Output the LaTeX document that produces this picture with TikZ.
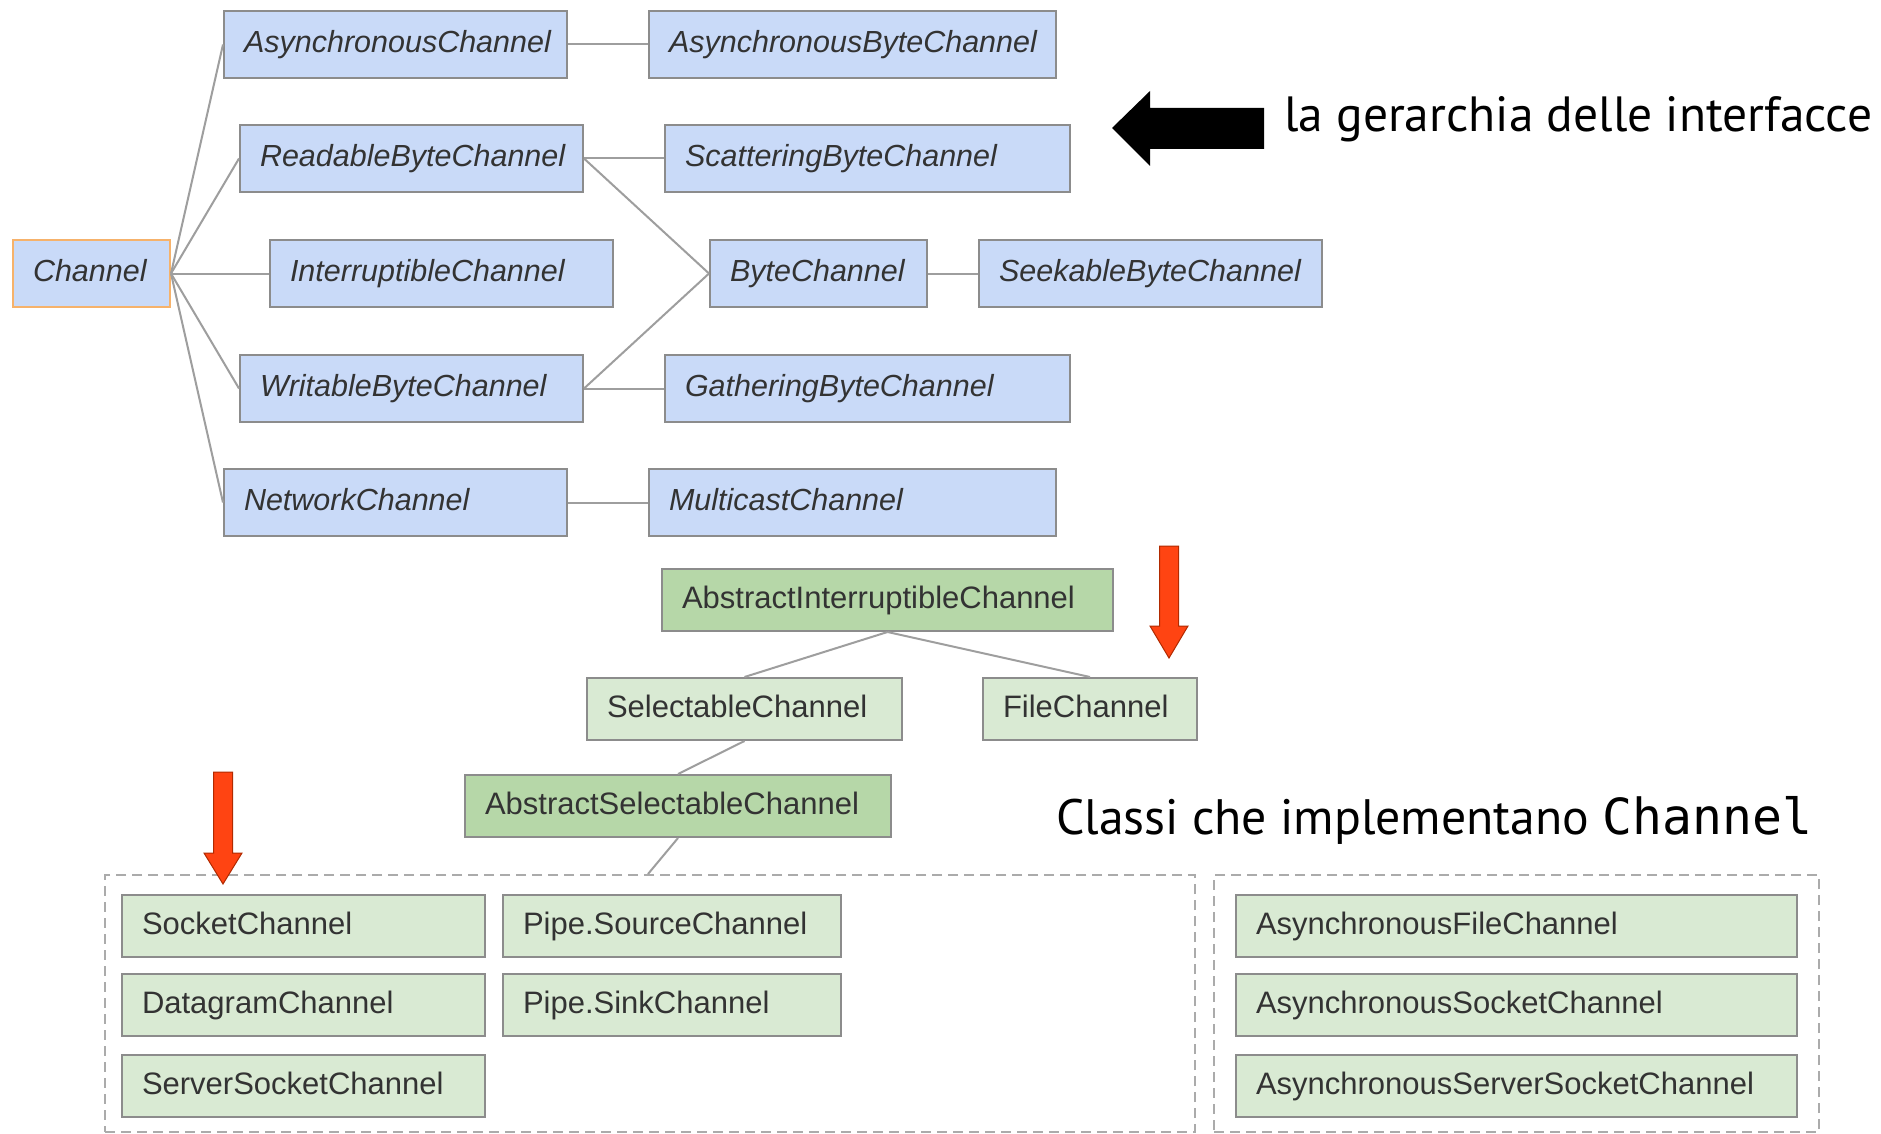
\documentclass[tikz,border=0pt]{standalone}
\usepackage{graphicx}
\usepackage{fontspec}
\setmainfont{Liberation Sans}
\newfontfamily\headfont{PT Sans}
\newfontfamily\monofont{DejaVu Sans Mono}

\definecolor{bluefill}{HTML}{C9DAF8}
\definecolor{boxedge}{HTML}{8C8C8C}
\definecolor{chorange}{HTML}{F6B26B}
\definecolor{dkgreen}{HTML}{B6D7A8}
\definecolor{ltgreen}{HTML}{D9EAD3}
\definecolor{linkgray}{HTML}{9E9E9E}
\definecolor{txtgray}{HTML}{333333}
\definecolor{redarrow}{HTML}{FF4412}
\definecolor{redarrowedge}{HTML}{B02A00}
\definecolor{dashgray}{HTML}{ABABAB}

\tikzset{
  box/.style n args={2}{draw=boxedge, line width=2pt, anchor=north west,
    inner xsep=0pt, inner ysep=0pt, text width=#1, minimum height=#2,
    align=left, text=txtgray, execute at begin node={\hspace*{20pt}\vphantom{Ag}}},
  iface/.style={box={#1}{67pt}, fill=bluefill, font=\fontsize{30.5}{36}\selectfont\itshape},
  gbox/.style={box={#1}{62pt}, fill=ltgreen, font=\fontsize{31}{36}\selectfont},
  dbox/.style={draw=dashgray, line width=2pt, dash pattern=on 10pt off 6pt,
    anchor=north west, inner sep=0pt},
  link/.style={draw=linkgray, line width=2pt},
}

\begin{document}
\begin{tikzpicture}[x=1pt,y=-1pt]
\useasboundingbox[fill=white] (0,0) rectangle (1881,1134);

% interface hierarchy
\node[iface=157pt, draw=chorange] (ch) at (12,239) {Channel};
\node[iface=343pt] (asc) at (223,10) {AsynchronousChannel};
\node[iface=407pt] (asbc) at (648,10) {AsynchronousByteChannel};
\node[iface=343pt] (rbc) at (239,124) {ReadableByteChannel};
\node[iface=405pt] (sbc) at (664,124) {ScatteringByteChannel};
\node[iface=343pt] (ic) at (269,239) {InterruptibleChannel};
\node[iface=217pt] (bc) at (709,239) {ByteChannel};
\node[iface=343pt] (skc) at (978,239) {SeekableByteChannel};
\node[iface=343pt] (wbc) at (239,354) {WritableByteChannel};
\node[iface=405pt] (gbc) at (664,354) {GatheringByteChannel};
\node[iface=343pt] (nc) at (223,468) {NetworkChannel};
\node[iface=407pt] (mc) at (648,468) {MulticastChannel};

\draw[link] (ch.east) -- (asc.west);
\draw[link] (ch.east) -- (rbc.west);
\draw[link] (ch.east) -- (ic.west);
\draw[link] (ch.east) -- (wbc.west);
\draw[link] (ch.east) -- (nc.west);
\draw[link] (asc.east) -- (asbc.west);
\draw[link] (rbc.east) -- (sbc.west);
\draw[link] (rbc.east) -- (bc.west);
\draw[link] (wbc.east) -- (gbc.west);
\draw[link] (wbc.east) -- (bc.west);
\draw[link] (bc.east) -- (skc.west);
\draw[link] (nc.east) -- (mc.west);

% black arrow and caption
\fill[black] (1112,128) -- (1150,91) -- (1150,108) -- (1264,108) -- (1264,149)
  -- (1150,149) -- (1150,166) -- cycle;
\node[anchor=base west, inner sep=0pt] (hd1) at (1284,132)
  {\resizebox{588pt}{!}{\fontsize{56}{60}\headfont la gerarchia delle interfacce}};

% class hierarchy
\node[dbox, minimum width=1090pt, minimum height=257pt] (grpA) at (104,874) {};
\node[dbox, minimum width=605pt, minimum height=257pt] (grpB) at (1213,874) {};
\coordinate (grpAtop) at (648,874);

\node[gbox=451pt, fill=dkgreen] (aic) at (661,568) {AbstractInterruptibleChannel};
\node[gbox=315pt] (sc) at (586,677) {SelectableChannel};
\node[gbox=214pt] (fc) at (982,677) {FileChannel};
\node[gbox=426pt, fill=dkgreen] (asel) at (464,774) {AbstractSelectableChannel};

\draw[link] (aic.south) -- (sc.north);
\draw[link] (aic.south) -- (fc.north);
\draw[link] (sc.south) -- (asel.north);
\draw[link] (asel.south) -- (grpAtop);

\node[gbox=363pt] (sock) at (121,894) {SocketChannel};
\node[gbox=338pt] (psrc) at (502,894) {Pipe.SourceChannel};
\node[gbox=363pt] (dgram) at (121,973) {DatagramChannel};
\node[gbox=338pt] (psink) at (502,973) {Pipe.SinkChannel};
\node[gbox=363pt] (ssock) at (121,1054) {ServerSocketChannel};
\node[gbox=561pt] (afc) at (1235,894) {AsynchronousFileChannel};
\node[gbox=561pt] (asock) at (1235,973) {AsynchronousSocketChannel};
\node[gbox=561pt] (assock) at (1235,1054) {AsynchronousServerSocketChannel};

% red arrows
\filldraw[fill=redarrow, draw=redarrowedge, line width=1pt]
  (1159.5,546) -- (1178.5,546) -- (1178.5,626) -- (1188,626) -- (1169,658)
  -- (1150,626) -- (1159.5,626) -- cycle;
\filldraw[fill=redarrow, draw=redarrowedge, line width=1pt]
  (213.5,772) -- (232.5,772) -- (232.5,853) -- (242,853) -- (223,884)
  -- (204,853) -- (213.5,853) -- cycle;

% caption 2
\node[anchor=base west, inner sep=0pt] (hd2) at (1056,834)
  {\resizebox{756pt}{!}{\fontsize{56}{60}{\headfont Classi che implementano }{\monofont Channel}}};
\end{tikzpicture}
\end{document}
